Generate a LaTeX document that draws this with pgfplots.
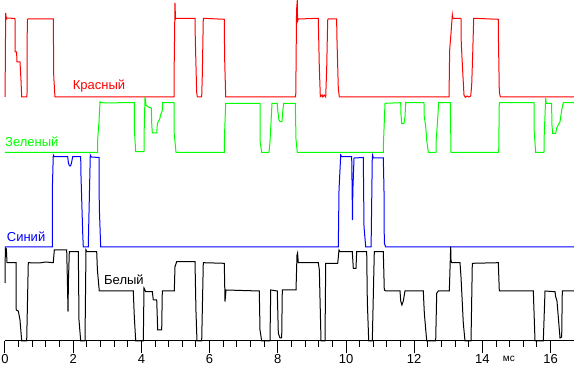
\documentclass[border=0pt]{standalone}
\usepackage{fontspec}
\setmainfont{Liberation Sans}
\usepackage{pgfplots}
\pgfplotsset{compat=1.18}
\definecolor{cred}{RGB}{255,0,0}
\definecolor{cgreen}{RGB}{0,255,0}
\definecolor{cblue}{RGB}{0,0,255}
\begin{document}
\begin{tikzpicture}
\useasboundingbox (-5pt,-26pt) rectangle (569pt,341pt);
\begin{axis}[
  at={(0,0)}, anchor=south west, scale only axis,
  width=569pt, height=341pt,
  xmin=0, xmax=16.686, ymin=0, ymax=341, clip=false,
  axis x line=bottom, axis y line=none,
  axis line style={-, line width=1pt, black},
  ytick=\empty,
  xtick={0,2,...,16}, minor x tick num=4, tick align=outside,
  major tick length=12pt, minor tick length=6pt,
  every tick/.style={black, line width=1pt},
  x tick label style={font=\fontsize{13}{13}\selectfont, inner sep=1pt},
  /pgf/number format/assume math mode=true,
  every axis plot/.append style={line width=1pt, mark=none},
]
\addplot[cred] coordinates {(0,244) (0.005,258) (0.02,328) (0.04,322) (0.06,323) (0.293,322.5) (0.3,289) (0.34,289) (0.352,279) (0.44,279) (0.47,260) (0.49,244) (0.636,244) (0.645,246) (0.654,321) (0.674,322) (1.416,322) (1.43,264) (1.466,244) (4.956,244) (4.96,271) (4.985,338) (5.0,322) (5.015,322.7) (5.572,322.7) (5.58,303) (5.62,249) (5.64,244) (5.768,244) (5.786,266) (5.815,322.7) (6.431,321.7) (6.44,284) (6.472,244) (8.525,244) (8.53,256) (8.55,331) (8.572,341) (8.58,320) (8.601,322) (9.188,322.7) (9.19,318) (9.218,273) (9.247,244.3) (9.3,246) (9.32,244) (9.36,246) (9.405,244) (9.434,273) (9.463,321) (9.48,322) (9.727,322) (9.73,308) (9.774,253) (9.804,244) (13.021,244) (13.04,291) (13.079,307.7) (13.118,326) (13.13,323) (13.148,322.7) (13.372,322.7) (13.38,298) (13.42,271) (13.46,246) (13.5,243.7) (13.55,245) (13.6,244) (13.657,245) (13.686,256) (13.716,288) (13.745,322.7) (14.466,321.7) (14.47,303) (14.496,249) (14.525,244) (16.686,244)};
\addplot[cgreen] coordinates {(0,188.7) (2.718,188.7) (2.72,203) (2.757,219.3) (2.786,239.3) (2.815,238.3) (3.2,238) (3.4,238.5) (3.792,238.3) (3.795,211) (3.833,189.3) (4.076,189.3) (4.08,208) (4.106,244) (4.135,236) (4.2,234) (4.29,233) (4.302,217.7) (4.32,208) (4.449,208) (4.47,217.7) (4.54,222) (4.56,226) (4.61,230) (4.625,238.3) (4.956,238.3) (4.96,208) (5.015,188.7) (6.431,188.7) (6.44,208) (6.472,237.7) (7.478,237.7) (7.48,199.3) (7.528,188.7) (7.742,188.7) (7.771,199.3) (7.8,217.7) (7.83,237.7) (7.985,237.7) (7.996,231) (8.035,221) (8.065,219.3) (8.123,219.3) (8.144,229.3) (8.173,237.7) (8.513,237.7) (8.534,201) (8.572,188.7) (11.094,188.7) (11.1,199.3) (11.144,237.7) (11.604,238.3) (11.61,227.7) (11.633,217.7) (11.701,217.7) (11.73,224.3) (11.751,238.3) (12.287,238.3) (12.29,226) (12.337,214.3) (12.367,201) (12.413,188.7) (12.639,188.7) (12.645,201) (12.68,217.7) (12.718,238.3) (13.059,238.3) (13.079,188.7) (14.478,188.7) (14.495,238.5) (14.507,238.3) (15.513,238.3) (15.52,209.3) (15.563,188.7) (15.806,188.7) (15.81,203) (15.856,243) (15.87,237.7) (16.032,237.7) (16.035,217.7) (16.061,207.7) (16.149,207.7) (16.178,213) (16.276,219.3) (16.325,231) (16.372,238.3) (16.686,238.3)};
\addplot[cblue] coordinates {(0,94) (1.387,94) (1.39,154.3) (1.416,186) (1.446,184.3) (1.838,184.3) (1.86,178) (1.89,175) (1.92,175) (1.95,178) (1.985,184.3) (2.22,184.3) (2.225,169.3) (2.279,107.7) (2.296,94) (2.443,94) (2.45,107.7) (2.501,186) (2.53,184) (2.757,183.5) (2.765,134) (2.806,94) (9.774,94) (9.795,151) (9.845,186) (9.874,184.3) (10.167,184.3) (10.18,150) (10.19,121) (10.2,150) (10.235,183) (10.507,183.5) (10.528,114.3) (10.578,94) (10.733,94) (10.74,104.3) (10.771,184.3) (10.78,186) (10.8,183) (11.094,183) (11.114,151) (11.123,98) (11.164,94) (16.686,94)};
\addplot[black] coordinates {(0,58) (0.01,93) (0.04,92) (0.059,78.3) (0.323,78.3) (0.33,31) (0.39,30) (0.44,21) (0.49,0) (0.636,0) (0.683,78.3) (1.0,78) (1.2,79) (1.416,78.3) (1.446,91) (1.809,91) (1.83,60) (1.848,29.3) (1.86,60) (1.886,89.3) (2.15,89.3) (2.17,21) (2.22,0) (2.346,0) (2.375,91) (2.4,89.3) (2.689,89.3) (2.71,71) (2.765,50) (3.762,50) (3.792,24.3) (3.833,0) (4.056,0) (4.076,53) (4.126,49.3) (4.32,49.3) (4.349,41) (4.449,41) (4.478,11) (4.595,11) (4.613,50) (4.965,50) (4.985,74.3) (5.035,79.3) (5.572,79.3) (5.6,30) (5.63,0) (5.768,0) (5.815,78.3) (6.431,77.7) (6.452,39.3) (6.481,51) (7.457,50) (7.478,11) (7.528,0) (7.771,0) (7.792,51) (7.985,50) (8.015,7.7) (8.065,3) (8.114,3) (8.132,51) (8.534,51) (8.563,86) (8.58,88) (8.601,78.3) (9.188,78.3) (9.218,71) (9.267,0) (9.384,0) (9.405,77.7) (9.757,77.7) (9.795,91) (9.824,89.3) (10.185,89.3) (10.214,72.7) (10.293,72.7) (10.313,89.3) (10.607,89.3) (10.625,40) (10.666,0) (10.771,0) (10.83,89.3) (11.094,89.3) (11.123,51) (11.173,50) (11.584,50) (11.604,40) (11.64,36) (11.68,40) (11.73,50) (12.267,50) (12.297,27.7) (12.367,0) (12.63,0) (12.66,47.7) (12.707,50) (13.03,50) (13.07,94.3) (13.08,80) (13.1,78.3) (13.343,78.3) (13.372,64.3) (13.44,17.7) (13.49,0) (13.666,0) (13.704,77.7) (14.466,78.3) (14.496,50) (15.493,50) (15.543,0) (15.786,0) (15.836,50) (16.129,49.3) (16.149,44.3) (16.187,40) (16.276,3) (16.325,4) (16.343,50) (16.686,50)};
\node[anchor=base west, inner sep=0pt, text=cred, font=\fontsize{13}{13}\selectfont] at (axis cs:1.985,251) {Красный};
\node[anchor=base west, inner sep=0pt, text=cgreen, font=\fontsize{13}{13}\selectfont] at (axis cs:0,194.3) {Зеленый};
\node[anchor=base west, inner sep=0pt, text=cblue, font=\fontsize{13}{13}\selectfont] at (axis cs:0.05,99.3) {Синий};
\node[anchor=base west, inner sep=0pt, text=black, font=\fontsize{13}{13}\selectfont] at (axis cs:2.903,56) {Белый};
\node[anchor=base west, inner sep=0pt, text=black, font=\fontsize{10}{10}\selectfont] at (axis cs:14.595,-21) {мс};
\end{axis}
\end{tikzpicture}
\end{document}
